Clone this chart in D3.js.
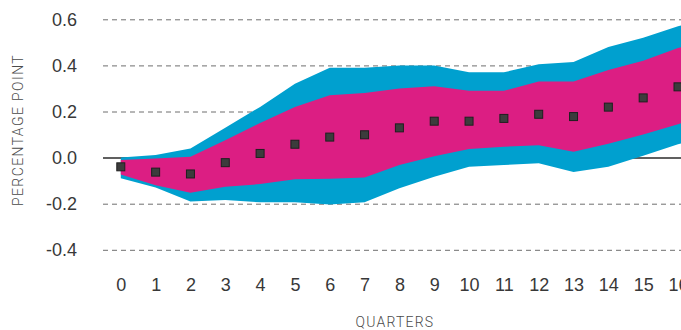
<!DOCTYPE html>
<html>
<head>
<meta charset="utf-8">
<script src="https://cdn.jsdelivr.net/npm/d3@7"></script>
<style>
  html, body { margin: 0; padding: 0; background: #fff; }
  svg { display: block; font-family: Roboto, "Noto Sans", sans-serif; }
</style>
</head>
<body>
<svg id="chart" width="681" height="330"></svg>
<script>
// Quarters after the shock (17 sits just past the right edge of the frame)
const quarters = [0, 1, 2, 3, 4, 5, 6, 7, 8, 9, 10, 11, 12, 13, 14, 15, 16, 17];

// Point estimate (percentage points)
const pointEstimate = [-0.04, -0.063, -0.071, -0.022, 0.018, 0.058, 0.089, 0.099, 0.129, 0.158, 0.158, 0.17, 0.188, 0.178, 0.219, 0.259, 0.307, 0.34];

// Inner (magenta) confidence band
const innerUpper = [-0.01, -0.004, 0.004, 0.075, 0.15, 0.22, 0.27, 0.28, 0.30, 0.31, 0.29, 0.29, 0.33, 0.33, 0.38, 0.42, 0.475, 0.52];
const innerLower = [-0.073, -0.12, -0.152, -0.126, -0.115, -0.094, -0.092, -0.086, -0.032, 0.006, 0.037, 0.047, 0.054, 0.025, 0.06, 0.10, 0.145, 0.19];

// Outer (blue) confidence band
const outerUpper = [0.0, 0.011, 0.04, 0.13, 0.22, 0.32, 0.39, 0.39, 0.40, 0.40, 0.37, 0.37, 0.405, 0.415, 0.48, 0.52, 0.57, 0.61];
const outerLower = [-0.09, -0.13, -0.19, -0.184, -0.194, -0.194, -0.203, -0.194, -0.133, -0.083, -0.04, -0.032, -0.025, -0.062, -0.04, 0.008, 0.058, 0.10];

// Axis ticks
const yTicks = [-0.4, -0.2, 0.0, 0.2, 0.4, 0.6];
const xTicks = [0, 1, 2, 3, 4, 5, 6, 7, 8, 9, 10, 11, 12, 13, 14, 15, 16, 17];

const W = 681, H = 330;
const gridLeft = 103;

const svg = d3.select("#chart");

const x = d3.scaleLinear().domain([0, 16]).range([120.8, 678]);
const y = d3.scaleLinear().domain([-0.4, 0.6]).range([249.8, 19.3]);

const rows = quarters.map((q, i) => ({
  q,
  p: pointEstimate[i],
  iu: innerUpper[i], il: innerLower[i],
  ou: outerUpper[i], ol: outerLower[i]
}));

// Horizontal gridlines with value labels
const yAxis = d3.axisLeft(y)
  .tickValues(yTicks)
  .tickSize(-(W - gridLeft))
  .tickPadding(26)
  .tickFormat(d3.format(".1f"));

const gy = svg.append("g")
  .attr("transform", `translate(${gridLeft},0)`)
  .call(yAxis);
gy.select(".domain").remove();
gy.selectAll(".tick line")
  .attr("stroke", d => d === 0 ? "#2b2b2b" : "#6f6f6f")
  .attr("stroke-width", d => d === 0 ? 1.5 : 1)
  .attr("stroke-dasharray", d => d === 0 ? null : "5,4");
gy.selectAll(".tick text")
  .attr("fill", "#383838")
  .attr("font-size", 18)
  .attr("font-weight", 300)
  .text(d => d3.format(".1f")(d).replace("−", "-"));

// Confidence bands
const outerArea = d3.area()
  .x(d => x(d.q))
  .y0(d => y(d.ol))
  .y1(d => y(d.ou));
const innerArea = d3.area()
  .x(d => x(d.q))
  .y0(d => y(d.il))
  .y1(d => y(d.iu));

svg.append("path")
  .datum(rows)
  .attr("d", outerArea)
  .attr("fill", "#00a0cf");
svg.append("path")
  .datum(rows)
  .attr("d", innerArea)
  .attr("fill", "#dc1e83");

// Point estimate markers
const m = 8;
svg.append("g")
  .selectAll("rect")
  .data(rows)
  .join("rect")
  .attr("x", d => x(d.q) - m / 2)
  .attr("y", d => y(d.p) - m / 2)
  .attr("width", m)
  .attr("height", m)
  .attr("fill", "#3c3c3c")
  .attr("stroke", "#1f1f1f")
  .attr("stroke-width", 1);

// Quarter labels
const xAxis = d3.axisBottom(x)
  .tickValues(xTicks)
  .tickSize(0)
  .tickPadding(0)
  .tickFormat(d3.format("d"));
const gx = svg.append("g")
  .attr("transform", "translate(0,278)")
  .call(xAxis);
gx.select(".domain").remove();
gx.selectAll(".tick text")
  .attr("fill", "#383838")
  .attr("font-size", 18)
  .attr("font-weight", 300);

// Axis titles
svg.append("text")
  .attr("transform", "translate(23,130) rotate(-90)")
  .attr("text-anchor", "middle")
  .attr("font-size", 14)
  .attr("font-weight", 300)
  .attr("letter-spacing", 1.4)
  .attr("fill", "#4a4a4a")
  .text("PERCENTAGE POINT");

svg.append("text")
  .attr("x", 395)
  .attr("y", 327)
  .attr("text-anchor", "middle")
  .attr("font-size", 14)
  .attr("font-weight", 300)
  .attr("letter-spacing", 1.2)
  .attr("fill", "#4a4a4a")
  .text("QUARTERS");
</script>
</body>
</html>
